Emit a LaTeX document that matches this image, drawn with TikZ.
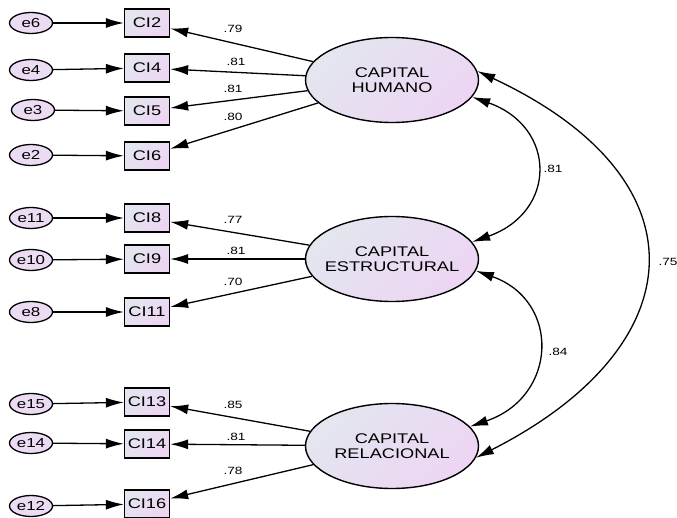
\documentclass[tikz,border=0pt]{standalone}
\usepackage{fontspec}
\setmainfont{Liberation Sans}[FakeStretch=1.3]
\usetikzlibrary{shapes.geometric,arrows.meta}

\definecolor{lvlow}{HTML}{E3E6EF}
\definecolor{lvhigh}{HTML}{EDD5F3}
\definecolor{errfill}{HTML}{EBDCF3}

\tikzset{
 latent/.style={ellipse, draw, line width=1.4pt, minimum width=173pt, minimum height=85pt, inner xsep=-8pt, inner ysep=0pt,
  align=center, top color=lvlow, bottom color=lvhigh, shading angle=45, font=\fontsize{14}{15}\selectfont},
 obs/.style={rectangle, draw, line width=1.3pt, minimum width=45pt, minimum height=28pt, inner sep=1pt,
  top color=lvlow, bottom color=lvhigh, shading angle=45, font=\fontsize{14}{15}\selectfont},
 err/.style={ellipse, draw, line width=1.3pt, minimum width=43pt, minimum height=21pt, inner sep=0pt,
  fill=errfill, font=\fontsize{13}{14}\selectfont},
 coef/.style={font=\fontsize{10.5}{11}\selectfont, inner sep=0pt},
 path/.style={line width=1.3pt, -{Latex[length=18pt,width=10pt]}},
 cov/.style={line width=1.3pt, {Latex[length=18pt,width=10pt]}-{Latex[length=18pt,width=10pt]}}
}

\begin{document}
\begin{tikzpicture}[x=1pt,y=1pt]
 \useasboundingbox (0,0) rectangle (677,-518);

 %%%  nodes

 % error nodes
 \node [err] (e6) at (31,-23) {e6};
 \node [err] (e4) at (31,-70) {e4};
 \node [err] (e3) at (33,-110) {e3};
 \node [err] (e2) at (31,-155) {e2};
 \node [err] (e11) at (31,-218) {e11};
 \node [err] (e10) at (31,-260) {e10};
 \node [err] (e8) at (31,-312) {e8};
 \node [err] (e15) at (31,-404) {e15};
 \node [err] (e14) at (31,-443) {e14};
 \node [err] (e12) at (31,-506) {e12};

 % indicator nodes
 \node [obs] (ci2) at (147,-23) {CI2};
 \node [obs] (ci4) at (147,-68) {CI4};
 \node [obs] (ci5) at (147,-111) {CI5};
 \node [obs] (ci6) at (147,-156) {CI6};
 \node [obs] (ci8) at (147,-218) {CI8};
 \node [obs] (ci9) at (147,-259) {CI9};
 \node [obs] (ci11) at (147,-312) {CI11};
 \node [obs] (ci13) at (147,-402) {CI13};
 \node [obs] (ci14) at (147,-444) {CI14};
 \node [obs] (ci16) at (147,-504) {CI16};

 % latent nodes
 \node [latent] (hum) at (392,-80) {CAPITAL\\HUMANO};
 \node [latent] (est) at (392,-259) {CAPITAL\\ESTRUCTURAL};
 \node [latent] (rel) at (392,-446) {CAPITAL\\RELACIONAL};

 %%%  edges

 % errors
 \foreach \e/\c in {e6/ci2, e4/ci4, e3/ci5, e2/ci6, e11/ci8, e10/ci9, e8/ci11, e15/ci13, e14/ci14, e12/ci16}
  \draw [path] (\e) -- (\c);

 % loadings
 \draw [path] (hum) -- (ci2);
 \draw [path] (hum) -- (ci4);
 \draw [path] (hum) -- (ci5);
 \draw [path] (hum) -- (ci6);
 \draw [path] (est) -- (ci8);
 \draw [path] (est) -- (ci9);
 \draw [path] (est) -- (ci11);
 \draw [path] (rel) -- (ci13);
 \draw [path] (rel) -- (ci14);
 \draw [path] (rel) -- (ci16);

 \node [coef] (l2) at (233,-29) {.79};
 \node [coef] (l4) at (236,-62) {.81};
 \node [coef] (l5) at (233,-89) {.81};
 \node [coef] (l6) at (233,-117) {.80};
 \node [coef] (l8) at (233,-220) {.77};
 \node [coef] (l9) at (236,-251) {.81};
 \node [coef] (l11) at (233,-282) {.70};
 \node [coef] (l13) at (233,-405) {.85};
 \node [coef] (l14) at (236,-437) {.81};
 \node [coef] (l16) at (233,-471) {.78};

 % covariances
 \draw [cov] (hum.-12) .. controls +(85,-30) and +(85,30) .. (est.12);
 \draw [cov] (est.-8) .. controls +(85,-30) and +(88,30) .. (rel.14);
 \draw [cov] (hum.6) .. controls +(231,-108) and +(219,111) .. (rel.-8);

 \node [coef] (c1) at (553,-169) {.81};
 \node [coef] (c2) at (558,-352) {.84};
 \node [coef] (c3) at (668,-262) {.75};

\end{tikzpicture}
\end{document}
